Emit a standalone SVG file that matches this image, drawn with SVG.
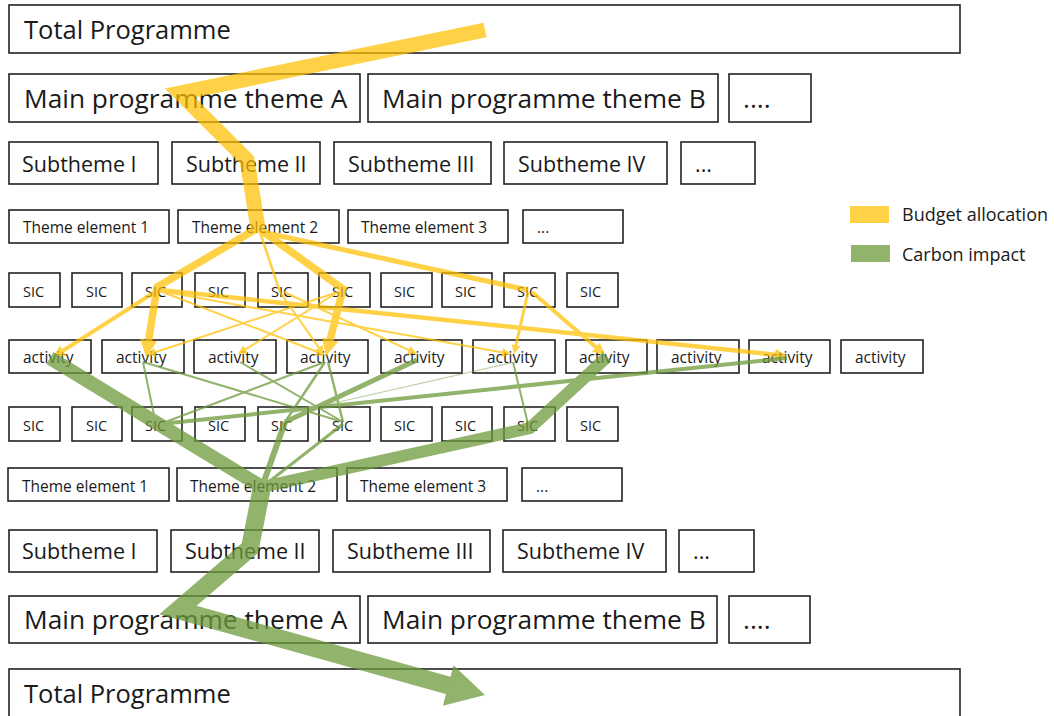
<svg xmlns="http://www.w3.org/2000/svg" width="1054" height="716" viewBox="0 0 1054 716">
<style>
.b{fill:#fff;stroke:#222;stroke-width:1.6}
.t{font-family:'Open Sans','Liberation Sans',sans-serif;fill:#1a1a1a}
.xl{font-size:25.5px}
.mn{font-size:26.3px}
.l{font-size:21.5px}
.m{font-size:15.5px}
.s{font-size:14.5px}
.lg{font-size:18px}
.y{fill:none;stroke:#FFC000;stroke-linejoin:miter}
.g{fill:none;stroke:#6E9A3A;stroke-linejoin:miter}
</style>
<defs>
<marker id="aS" viewBox="0 0 10 10" refX="4" refY="5" markerWidth="9" markerHeight="9" markerUnits="userSpaceOnUse" orient="auto"><path d="M0,0L10,5L0,10z" fill="#FFC000"/></marker>
<marker id="aM" viewBox="0 0 10 10" refX="4" refY="5" markerWidth="12" markerHeight="12" markerUnits="userSpaceOnUse" orient="auto"><path d="M0,0L10,5L0,10z" fill="#FFC000"/></marker>
<marker id="aL" viewBox="0 0 10 10" refX="4" refY="5" markerWidth="17" markerHeight="17" markerUnits="userSpaceOnUse" orient="auto"><path d="M0,0L10,5L0,10z" fill="#FFC000"/></marker>
</defs>
<rect width="1054" height="716" fill="#fff"/>
<!-- Row 1 -->
<g id="total-top"><rect class="b" x="9" y="5" width="951" height="48"/><text class="t xl" x="24" y="39">Total Programme</text></g>
<!-- Row 2 -->
<g id="main-a-top"><rect class="b" x="9" y="74" width="351" height="48"/><text class="t mn" x="24" y="108">Main programme theme A</text></g>
<g id="main-b-top"><rect class="b" x="368" y="74" width="350" height="48"/><text class="t mn" x="382" y="108">Main programme theme B</text></g>
<g id="main-etc-top"><rect class="b" x="729" y="74" width="82" height="48"/><text class="t mn" x="743" y="108">....</text></g>
<!-- Row 3 -->
<g id="sub1-top"><rect class="b" x="9" y="142" width="149" height="42"/><text class="t l" x="22" y="172">Subtheme I</text></g>
<g id="sub2-top"><rect class="b" x="172" y="142" width="148" height="42"/><text class="t l" x="186" y="172">Subtheme II</text></g>
<g id="sub3-top"><rect class="b" x="334" y="142" width="157" height="42"/><text class="t l" x="348" y="172">Subtheme III</text></g>
<g id="sub4-top"><rect class="b" x="504" y="142" width="163" height="42"/><text class="t l" x="518" y="172">Subtheme IV</text></g>
<g id="sub-etc-top"><rect class="b" x="681" y="142" width="74" height="42"/><text class="t l" x="695" y="172">...</text></g>
<!-- Row 4 -->
<g id="te1-top"><rect class="b" x="9" y="210" width="160" height="33"/><text class="t m" x="23" y="233">Theme element 1</text></g>
<g id="te2-top"><rect class="b" x="178" y="210" width="161" height="33"/><text class="t m" x="192" y="233">Theme element 2</text></g>
<g id="te3-top"><rect class="b" x="348" y="210" width="160" height="33"/><text class="t m" x="361" y="233">Theme element 3</text></g>
<g id="te-etc-top"><rect class="b" x="523" y="210" width="100" height="33"/><text class="t m" x="537" y="233">...</text></g>
<!-- Row 5 SIC -->
<g id="sic1-top"><rect class="b" x="9" y="273" width="51" height="34"/><text class="t s" x="23" y="297">SIC</text></g>
<g id="sic2-top"><rect class="b" x="72" y="273" width="50" height="34"/><text class="t s" x="86" y="297">SIC</text></g>
<g id="sic3-top"><rect class="b" x="132" y="273" width="50" height="34"/><text class="t s" x="145" y="297">SIC</text></g>
<g id="sic4-top"><rect class="b" x="195" y="273" width="50" height="34"/><text class="t s" x="208" y="297">SIC</text></g>
<g id="sic5-top"><rect class="b" x="258" y="273" width="50" height="34"/><text class="t s" x="271" y="297">SIC</text></g>
<g id="sic6-top"><rect class="b" x="319" y="273" width="51" height="34"/><text class="t s" x="332" y="297">SIC</text></g>
<g id="sic7-top"><rect class="b" x="381" y="273" width="51" height="34"/><text class="t s" x="394" y="297">SIC</text></g>
<g id="sic8-top"><rect class="b" x="442" y="273" width="50" height="34"/><text class="t s" x="455" y="297">SIC</text></g>
<g id="sic9-top"><rect class="b" x="504" y="273" width="51" height="34"/><text class="t s" x="517" y="297">SIC</text></g>
<g id="sic10-top"><rect class="b" x="567" y="273" width="51" height="34"/><text class="t s" x="580" y="297">SIC</text></g>
<!-- Row 6 activity -->
<g id="act1"><rect class="b" x="9" y="340" width="82" height="33"/><text class="t m" x="23" y="363">activity</text></g>
<g id="act2"><rect class="b" x="102" y="340" width="82" height="33"/><text class="t m" x="116" y="363">activity</text></g>
<g id="act3"><rect class="b" x="194" y="340" width="82" height="33"/><text class="t m" x="208" y="363">activity</text></g>
<g id="act4"><rect class="b" x="287" y="340" width="81" height="33"/><text class="t m" x="300" y="363">activity</text></g>
<g id="act5"><rect class="b" x="381" y="340" width="81" height="33"/><text class="t m" x="394" y="363">activity</text></g>
<g id="act6"><rect class="b" x="473" y="340" width="82" height="33"/><text class="t m" x="487" y="363">activity</text></g>
<g id="act7"><rect class="b" x="566" y="340" width="81" height="33"/><text class="t m" x="579" y="363">activity</text></g>
<g id="act8"><rect class="b" x="657" y="340" width="82" height="33"/><text class="t m" x="671" y="363">activity</text></g>
<g id="act9"><rect class="b" x="749" y="340" width="81" height="33"/><text class="t m" x="762" y="363">activity</text></g>
<g id="act10"><rect class="b" x="841" y="340" width="82" height="33"/><text class="t m" x="855" y="363">activity</text></g>
<!-- Row 7 SIC -->
<g id="sic1-bot"><rect class="b" x="9" y="407" width="51" height="34"/><text class="t s" x="23" y="431">SIC</text></g>
<g id="sic2-bot"><rect class="b" x="72" y="407" width="50" height="34"/><text class="t s" x="86" y="431">SIC</text></g>
<g id="sic3-bot"><rect class="b" x="132" y="407" width="50" height="34"/><text class="t s" x="145" y="431">SIC</text></g>
<g id="sic4-bot"><rect class="b" x="195" y="407" width="50" height="34"/><text class="t s" x="208" y="431">SIC</text></g>
<g id="sic5-bot"><rect class="b" x="258" y="407" width="50" height="34"/><text class="t s" x="271" y="431">SIC</text></g>
<g id="sic6-bot"><rect class="b" x="319" y="407" width="51" height="34"/><text class="t s" x="332" y="431">SIC</text></g>
<g id="sic7-bot"><rect class="b" x="381" y="407" width="51" height="34"/><text class="t s" x="394" y="431">SIC</text></g>
<g id="sic8-bot"><rect class="b" x="442" y="407" width="50" height="34"/><text class="t s" x="455" y="431">SIC</text></g>
<g id="sic9-bot"><rect class="b" x="504" y="407" width="51" height="34"/><text class="t s" x="517" y="431">SIC</text></g>
<g id="sic10-bot"><rect class="b" x="567" y="407" width="51" height="34"/><text class="t s" x="580" y="431">SIC</text></g>
<!-- Row 8 -->
<g id="te1-bot"><rect class="b" x="8" y="468" width="161" height="33"/><text class="t m" x="22" y="492">Theme element 1</text></g>
<g id="te2-bot"><rect class="b" x="177" y="468" width="160" height="33"/><text class="t m" x="190" y="492">Theme element 2</text></g>
<g id="te3-bot"><rect class="b" x="347" y="468" width="160" height="33"/><text class="t m" x="360" y="492">Theme element 3</text></g>
<g id="te-etc-bot"><rect class="b" x="522" y="468" width="100" height="33"/><text class="t m" x="536" y="492">...</text></g>
<!-- Row 9 -->
<g id="sub1-bot"><rect class="b" x="9" y="530" width="148" height="42"/><text class="t l" x="22" y="559">Subtheme I</text></g>
<g id="sub2-bot"><rect class="b" x="171" y="530" width="148" height="42"/><text class="t l" x="185" y="559">Subtheme II</text></g>
<g id="sub3-bot"><rect class="b" x="333" y="530" width="157" height="42"/><text class="t l" x="347" y="559">Subtheme III</text></g>
<g id="sub4-bot"><rect class="b" x="503" y="530" width="163" height="42"/><text class="t l" x="517" y="559">Subtheme IV</text></g>
<g id="sub-etc-bot"><rect class="b" x="679" y="530" width="75" height="42"/><text class="t l" x="693" y="559">...</text></g>
<!-- Row 10 -->
<g id="main-a-bot"><rect class="b" x="9" y="596" width="351" height="47"/><text class="t mn" x="24" y="629">Main programme theme A</text></g>
<g id="main-b-bot"><rect class="b" x="368" y="596" width="349" height="47"/><text class="t mn" x="382" y="629">Main programme theme B</text></g>
<g id="main-etc-bot"><rect class="b" x="729" y="596" width="81" height="47"/><text class="t mn" x="743" y="629">....</text></g>
<!-- Row 11 -->
<g id="total-bot"><rect class="b" x="9" y="669" width="951" height="52"/><text class="t xl" x="24" y="703">Total Programme</text></g>
<!-- Legend -->
<g id="legend">
<rect x="850" y="206" width="39" height="17" fill="#FFC000" opacity="0.72"/>
<text class="t lg" x="902" y="221">Budget allocation</text>
<rect x="851" y="245" width="39" height="17" fill="#6E9A3A" opacity="0.75"/>
<text class="t lg" x="902" y="261">Carbon impact</text>
</g>
<!-- Connectors -->
<g id="connectors">
<g id="budget-flow" opacity="0.72">
<polyline class="y" stroke-width="15" points="485,30 180,93 247,160 258,228"/>
<polyline class="y" stroke-width="7.5" points="258,228 157,287 147.6,346.9" marker-end="url(#aL)"/>
<polyline class="y" stroke-width="7.5" points="258,228 343,289 328.5,346.1" marker-end="url(#aL)"/>
<line class="y" stroke-width="2.5" x1="260" y1="232" x2="280" y2="292"/>
<line class="y" stroke-width="5" x1="262" y1="232" x2="528" y2="290"/>
<line class="y" stroke-width="4" x1="155" y1="292" x2="59.1" y2="353.1" marker-end="url(#aM)"/>
<line class="y" stroke-width="4.5" x1="160" y1="290" x2="779.8" y2="355.2" marker-end="url(#aM)"/>
<line class="y" stroke-width="2" x1="160" y1="291" x2="320" y2="353" marker-end="url(#aS)"/>
<line class="y" stroke-width="2" x1="160" y1="291" x2="505.7" y2="353" marker-end="url(#aS)"/>
<line class="y" stroke-width="2" x1="280" y1="292" x2="320.9" y2="350.6" marker-end="url(#aS)"/>
<line class="y" stroke-width="2" x1="284" y1="292" x2="412.1" y2="351.7" marker-end="url(#aS)"/>
<line class="y" stroke-width="2" x1="338" y1="292" x2="152.1" y2="353.3" marker-end="url(#aS)"/>
<line class="y" stroke-width="2" x1="338" y1="292" x2="242.6" y2="351.2" marker-end="url(#aS)"/>
<line class="y" stroke-width="3" x1="528" y1="292" x2="515.2" y2="348.7" marker-end="url(#aS)"/>
<line class="y" stroke-width="4" x1="532" y1="292" x2="599.5" y2="350.3" marker-end="url(#aM)"/>
</g>
<g id="carbon-flow" opacity="0.75">
<line class="g" stroke-width="14" x1="50" y1="358" x2="262" y2="487"/>
<polyline class="g" stroke-width="12" points="607,357 530,428 262,487"/>
<polyline class="g" stroke-width="18" points="262,487 250,548 178,610 449,685.7"/>
<polygon points="485,695 453.5,665.2 442.9,705.8" fill="#6E9A3A"/>
<line class="g" stroke-width="2" x1="143" y1="362" x2="155" y2="420"/>
<line class="g" stroke-width="2" x1="143" y1="362" x2="343" y2="422"/>
<line class="g" stroke-width="2" x1="240" y1="362" x2="343" y2="422"/>
<line class="g" stroke-width="2" x1="325" y1="362" x2="160" y2="424"/>
<line class="g" stroke-width="2.5" x1="325" y1="362" x2="285" y2="422"/>
<line class="g" stroke-width="2.5" x1="328" y1="362" x2="343" y2="422"/>
<line class="g" stroke-width="5" x1="417" y1="360" x2="285" y2="422"/>
<line class="g" stroke-width="2" x1="513" y1="362" x2="528" y2="424"/>
<line class="g" stroke-width="1.2" x1="515" y1="362" x2="290" y2="413" stroke-opacity="0.6"/>
<line class="g" stroke-width="4" x1="787" y1="358" x2="160" y2="424"/>
<line class="g" stroke-width="6" x1="285" y1="422" x2="262" y2="487"/>
<line class="g" stroke-width="3" x1="343" y1="424" x2="266" y2="484"/>
</g>
</g>
</svg>
